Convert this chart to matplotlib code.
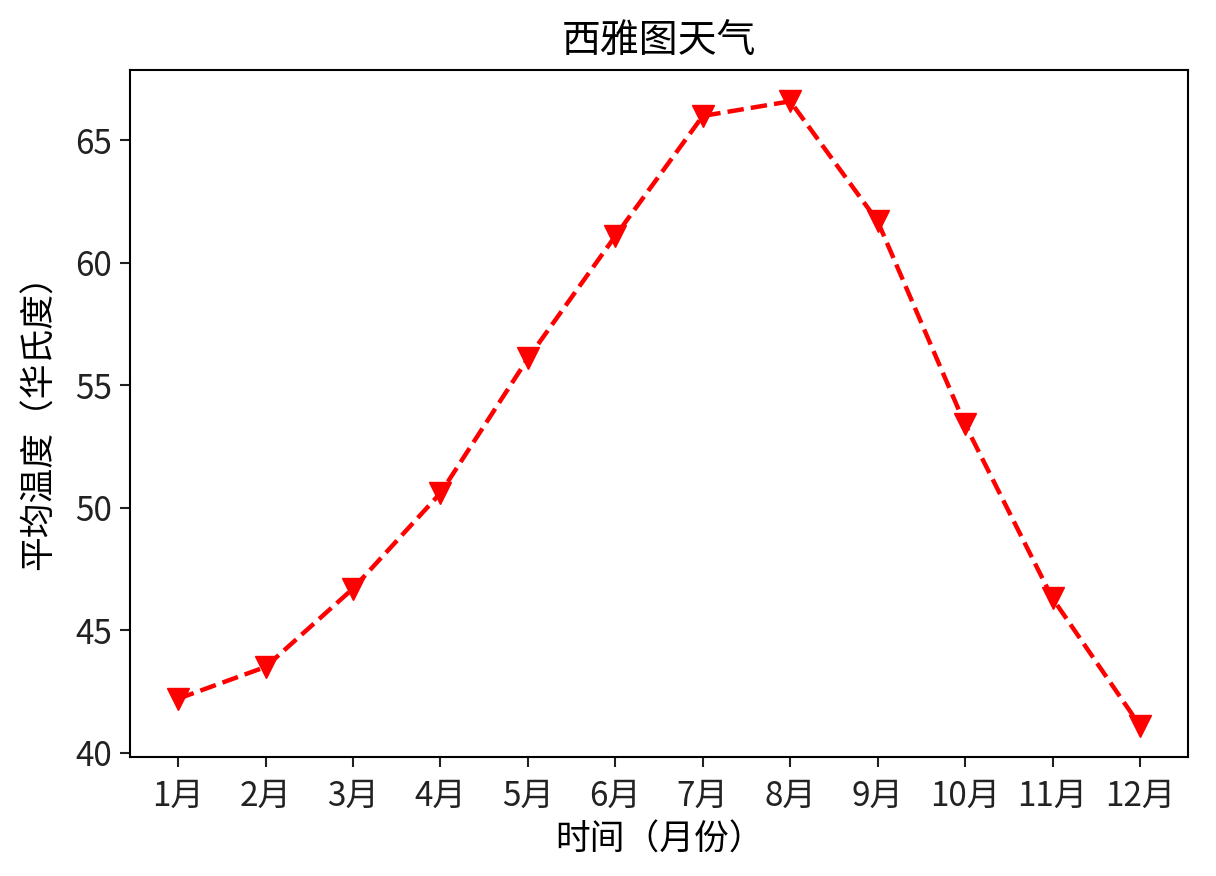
import matplotlib
matplotlib.use('Agg')
import matplotlib.pyplot as plt

plt.rcParams['font.family'] = ['Noto Sans CJK SC', 'DejaVu Sans']
plt.rcParams['axes.unicode_minus'] = False

# data
months = ['1月', '2月', '3月', '4月', '5月', '6月',
          '7月', '8月', '9月', '10月', '11月', '12月']
avg_temp = [42.2, 43.5, 46.7, 50.6, 56.1, 61.1,
            66.0, 66.6, 61.7, 53.4, 46.3, 41.1]

fig = plt.figure(figsize=(12.16, 8.76), dpi=100)
ax = fig.add_axes([0.107, 0.136, 0.870, 0.784])
ax.plot(months, avg_temp, color='red', ls='--', lw=3.2,
        marker='v', markersize=16)
ax.set_title('西雅图天气', fontsize=28, pad=12)
ax.set_xlabel('时间（月份）', fontsize=25, labelpad=6)
ax.set_ylabel('平均温度（华氏度）', fontsize=25, labelpad=13)
ax.set_yticks([40, 45, 50, 55, 60, 65])
ax.tick_params(labelsize=24, length=7, width=1.5, colors='#222222')
ax.tick_params(axis='x', pad=9)
ax.tick_params(axis='y', pad=6)
for sp in ax.spines.values():
    sp.set_linewidth(1.5)
fig.savefig('out.png', dpi=100)
